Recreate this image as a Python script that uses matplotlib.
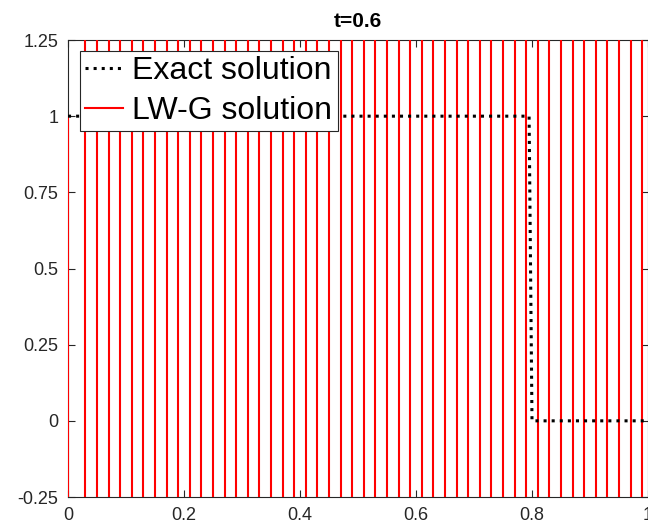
import numpy as np
import matplotlib
matplotlib.use("Agg")
import matplotlib.pyplot as plt

plt.rcParams['font.family'] = ['Liberation Sans', 'DejaVu Sans']

# Exact solution (step)
exact_x = [0.0, 0.795, 0.80, 1.0]
exact_y = [1.0, 1.0, 0.0, 0.0]

# LW-G numerical solution: blows up, alternating huge values on a 0.02 grid
lw_x = [0.00, 0.02, 0.04, 0.06, 0.08, 0.10, 0.12, 0.14, 0.16, 0.18,
        0.20, 0.22, 0.24, 0.26, 0.28, 0.30, 0.32, 0.34, 0.36, 0.38,
        0.40, 0.42, 0.44, 0.46, 0.48, 0.50, 0.52, 0.54, 0.56, 0.58,
        0.60, 0.62, 0.64, 0.66, 0.68, 0.70, 0.72, 0.74, 0.76, 0.78,
        0.80, 0.82, 0.84, 0.86, 0.88, 0.90, 0.92, 0.94, 0.96, 0.98, 1.00]
lw_y = [1.0, -1e6, 1e6, -1e6, 1e6, -1e6, 1e6, -1e6, 1e6, -1e6,
        1e6, -1e6, 1e6, -1e6, 1e6, -1e6, 1e6, -1e6, 1e6, -1e6,
        1e6, -1e6, 1e6, -1e6, 1e6, -1e6, 1e6, -1e6, 1e6, -1e6,
        1e6, -1e6, 1e6, -1e6, 1e6, -1e6, 1e6, -1e6, 1e6, -1e6,
        1e6, -1e6, 1e6, -1e6, 1e6, -1e6, 1e6, -1e6, 1e6, -1e6, 1e6]

xticks = [0, 0.2, 0.4, 0.6, 0.8, 1]
xticklabels = ['0', '0.2', '0.4', '0.6', '0.8', '1']
yticks = [-0.25, 0, 0.25, 0.5, 0.75, 1, 1.25]
yticklabels = ['-0.25', '0', '0.25', '0.5', '0.75', '1', '1.25']

W, H = 648, 531
fig = plt.figure(figsize=(W/100, H/100), dpi=100)
ax = fig.add_axes([68/W, 34/H, 580/W, 457/H])

l1, = ax.plot(exact_x, exact_y, color='black', linestyle=':', linewidth=2.2, label='Exact solution', zorder=4)
l2, = ax.plot(lw_x, lw_y, color='red', linewidth=1.5, label='LW-G solution', zorder=3)

ax.set_xlim(0, 1)
ax.set_ylim(-0.25, 1.25)
ax.set_xticks(xticks)
ax.set_xticklabels(xticklabels)
ax.set_yticks(yticks)
ax.set_yticklabels(yticklabels)

axc = '#262626'
ax.tick_params(direction='in', length=5, width=0.8, colors=axc, labelsize=13,
               top=True, right=True, pad=7)
for s in ax.spines.values():
    s.set_color(axc)
    s.set_linewidth(0.8)

ax.set_title('t=0.6', fontsize=15, fontweight='bold', pad=9.5)

leg = ax.legend(handles=[l1, l2], loc='upper left',
                bbox_to_anchor=(12/580, 1 - 11/457), borderaxespad=0,
                fontsize=23, handlelength=1.2, handletextpad=0.28,
                borderpad=0.16, labelspacing=0.31, fancybox=False,
                framealpha=1, edgecolor='#262626')
leg.get_frame().set_linewidth(0.8)
leg.set_zorder(5)

fig.savefig('out.png', dpi=100)
